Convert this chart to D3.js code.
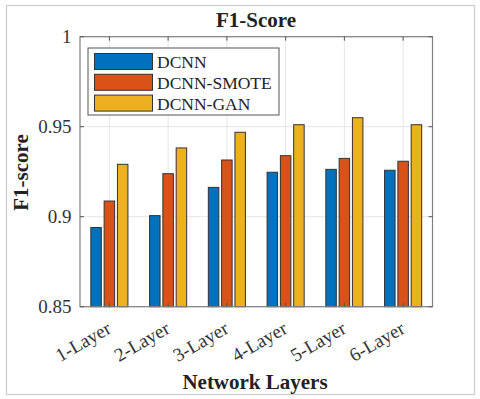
<!DOCTYPE html>
<html><head><meta charset="utf-8">
<script src="https://cdn.jsdelivr.net/npm/d3@7"></script>
<style>body{margin:0;background:#fff}svg{display:block}text{font-family:"Liberation Serif","Times New Roman",serif}</style>
</head><body><svg id="c" width="480" height="399"></svg>
<script>
const categories = ["1-Layer","2-Layer","3-Layer","4-Layer","5-Layer","6-Layer"];
const seriesNames = ["DCNN","DCNN-SMOTE","DCNN-GAN"];
const dcnn = [0.894,0.9006,0.9163,0.9247,0.9263,0.9258];
const dcnnSmote = [0.9087,0.9239,0.9315,0.9339,0.9324,0.9308];
const dcnnGan = [0.9291,0.9382,0.9469,0.9511,0.9550,0.9511];
const yTicks = [0.85,0.9,0.95,1];
const yTickLabels = ["0.85","0.9","0.95","1"];
const colors = ["#0072BD","#D95319","#EDB120"];
const series = [dcnn, dcnnSmote, dcnnGan];

const svg = d3.select("#c");
const L = 80, R = 432.5, T = 36.7, B = 306.7;
svg.append("rect").attr("x",6.5).attr("y",5.5).attr("width",468).attr("height",389).attr("fill","none").attr("stroke","#ccc").attr("stroke-width",1.2);

const x = d3.scaleLinear().domain([0.5,6.5]).range([L,R]);
const y = d3.scaleLinear().domain([0.85,1]).range([B,T]);

// grid
const g = svg.append("g");
g.selectAll(".vg").data(categories).join("line").attr("x1",(d,i)=>x(i+1)).attr("x2",(d,i)=>x(i+1)).attr("y1",T).attr("y2",B).attr("stroke","#e6e6e6").attr("stroke-width",1);
g.selectAll(".hg").data(yTicks).join("line").attr("x1",L).attr("x2",R).attr("y1",d=>y(d)).attr("y2",d=>y(d)).attr("stroke","#e6e6e6").attr("stroke-width",1);

// bars
const bw = 10.5, off = 13.3;
series.forEach((s,si)=>{
  svg.append("g").selectAll("rect").data(s).join("rect")
    .attr("x",(d,i)=>x(i+1)+(si-1)*off-bw/2)
    .attr("y",d=>y(d))
    .attr("width",bw)
    .attr("height",d=>B-y(d))
    .attr("fill",colors[si]).attr("stroke","#333").attr("stroke-width",1);
});

// axes box
const ax = svg.append("g");
ax.append("rect").attr("x",L).attr("y",T).attr("width",R-L).attr("height",B-T).attr("fill","none").attr("stroke","#808080").attr("stroke-width",1.2);
const tl = 4;
ax.selectAll(".yt").data(yTicks).join("g").each(function(d){
  const s = d3.select(this);
  s.append("line").attr("x1",L).attr("x2",L+tl).attr("y1",y(d)).attr("y2",y(d)).attr("stroke","#555");
  s.append("line").attr("x1",R).attr("x2",R-tl).attr("y1",y(d)).attr("y2",y(d)).attr("stroke","#555");
});
ax.selectAll(".xt").data(categories).join("g").each(function(d,i){
  const s = d3.select(this);
  s.append("line").attr("x1",x(i+1)).attr("x2",x(i+1)).attr("y1",B).attr("y2",B-tl).attr("stroke","#555");
  s.append("line").attr("x1",x(i+1)).attr("x2",x(i+1)).attr("y1",T).attr("y2",T+tl).attr("stroke","#555");
});

// y tick labels
svg.selectAll(".yl").data(yTicks).join("text").attr("x",L-8.5).attr("y",d=>y(d)+6.5).attr("text-anchor","end").attr("font-size",19).attr("fill","#333").text((d,i)=>yTickLabels[i]);
// x tick labels
svg.selectAll(".xl").data(categories).join("text")
  .attr("transform",(d,i)=>`translate(${x(i+1)+3},${B+25.5}) rotate(-30)`)
  .attr("text-anchor","end").attr("font-size",19).attr("fill","#333").text(d=>d);

// titles
svg.append("text").attr("x",256).attr("y",26.7).attr("text-anchor","middle").attr("font-size",21).attr("font-weight","bold").attr("fill","#222").text("F1-Score");
svg.append("text").attr("x",255).attr("y",388.5).attr("text-anchor","middle").attr("font-size",21).attr("font-weight","bold").attr("fill","#222").text("Network Layers");
svg.append("text").attr("transform","translate(28,172.5) rotate(-90)").attr("text-anchor","middle").attr("font-size",21).attr("font-weight","bold").attr("fill","#222").text("F1-score");

// legend
const lg = svg.append("g");
lg.append("rect").attr("x",88).attr("y",48).attr("width",191).attr("height",67).attr("fill","#fff").attr("stroke","#555").attr("stroke-width",1);
seriesNames.forEach((n,i)=>{
  const yy = 53.5 + i*20.8;
  lg.append("rect").attr("x",94.5).attr("y",yy).attr("width",58).attr("height",16).attr("fill",colors[i]).attr("stroke","#333");
  lg.append("text").attr("x",157).attr("y",yy+14.5).attr("font-size",17.5).attr("fill","#222").text(n);
});
</script></body></html>
